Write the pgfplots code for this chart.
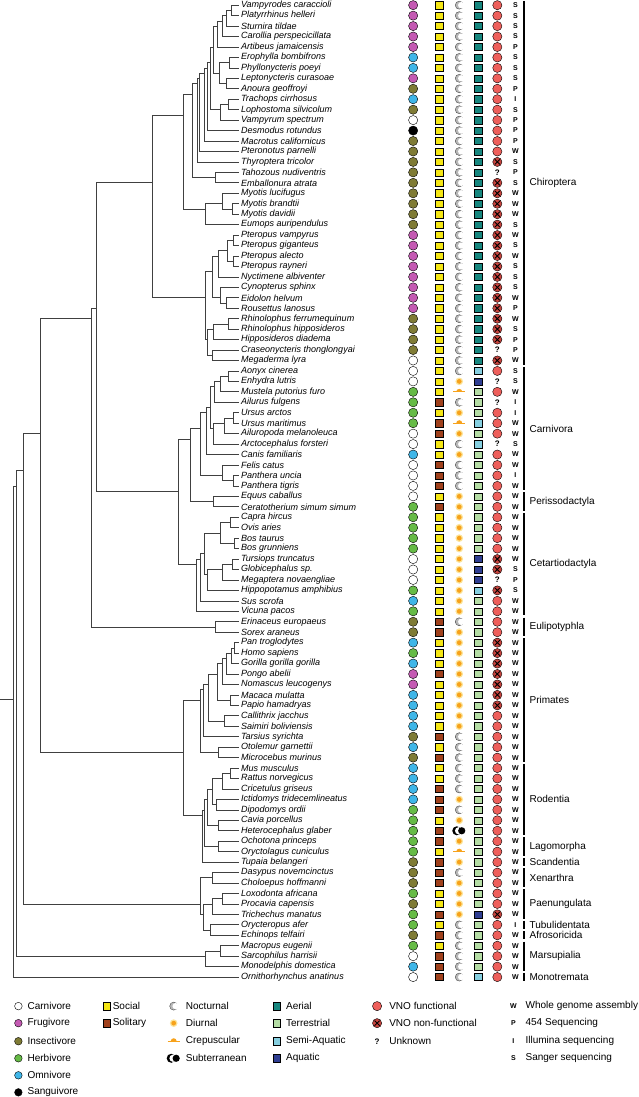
\documentclass[border=0pt]{standalone}
\usepackage{pgfplots}
\pgfplotsset{compat=1.18}
\usepackage{pgfplotstable}
\usepackage{fontspec}
\setmainfont{Liberation Sans}

\definecolor{cfrug}{HTML}{C45AB3}
\definecolor{cinsect}{HTML}{7F7B35}
\definecolor{cherb}{HTML}{66BB46}
\definecolor{comni}{HTML}{3FB6E8}
\definecolor{csocial}{HTML}{F5E614}
\definecolor{csolit}{HTML}{A0411C}
\definecolor{caerial}{HTML}{17877F}
\definecolor{cterr}{HTML}{B5DDA5}
\definecolor{csemi}{HTML}{86CFE0}
\definecolor{caqua}{HTML}{2F3E92}
\definecolor{cvno}{HTML}{EE5F5B}
\definecolor{cvnox}{HTML}{C8453F}
\definecolor{csun}{HTML}{F7A21B}
\definecolor{cglow}{HTML}{FCE49A}
\definecolor{cmoon}{HTML}{B8B8B8}

\pgfdeclareplotmark{moon}{%
  \pgfpathcircle{\pgfpointorigin}{\pgfplotmarksize}\pgfusepathqfillstroke
  \pgfsetfillcolor{white}\pgfsetstrokecolor{white}%
  \pgfpathcircle{\pgfpoint{0.5\pgfplotmarksize}{0pt}}{0.8\pgfplotmarksize}\pgfusepathqfill}
\pgfdeclareplotmark{sun}{%
  \pgfsetfillcolor{cglow}\pgfpathcircle{\pgfpointorigin}{1.6\pgfplotmarksize}\pgfusepathqfill
  \pgfsetfillcolor{csun}\pgfpathcircle{\pgfpointorigin}{\pgfplotmarksize}\pgfusepathqfill}
\pgfdeclareplotmark{dusk}{%
  \pgfsetfillcolor{csun}%
  \pgfpathmoveto{\pgfpoint{-\pgfplotmarksize}{0pt}}%
  \pgfpatharc{180}{0}{\pgfplotmarksize}\pgfpathclose\pgfusepathqfill
  \pgfsetstrokecolor{csun}\pgfsetlinewidth{0.8pt}%
  \pgfpathmoveto{\pgfpoint{-2\pgfplotmarksize}{0pt}}\pgfpathlineto{\pgfpoint{2\pgfplotmarksize}{0pt}}\pgfusepathqstroke}
\pgfdeclareplotmark{subt}{%
  \pgfsetfillcolor{black}%
  \pgfpathcircle{\pgfpoint{-0.55\pgfplotmarksize}{0pt}}{\pgfplotmarksize}\pgfusepathqfill
  \pgfsetfillcolor{white}%
  \pgfpathcircle{\pgfpoint{-0.15\pgfplotmarksize}{0pt}}{0.8\pgfplotmarksize}\pgfusepathqfill
  \pgfsetfillcolor{black}%
  \pgfpathcircle{\pgfpoint{0.55\pgfplotmarksize}{0pt}}{0.8\pgfplotmarksize}\pgfusepathqfill}
\pgfdeclareplotmark{vnox}{%
  \pgfpathcircle{\pgfpointorigin}{\pgfplotmarksize}\pgfusepathqfillstroke
  \pgfsetlinewidth{0.9pt}%
  \pgfpathmoveto{\pgfpoint{-0.55\pgfplotmarksize}{-0.55\pgfplotmarksize}}\pgfpathlineto{\pgfpoint{0.55\pgfplotmarksize}{0.55\pgfplotmarksize}}%
  \pgfpathmoveto{\pgfpoint{-0.55\pgfplotmarksize}{0.55\pgfplotmarksize}}\pgfpathlineto{\pgfpoint{0.55\pgfplotmarksize}{-0.55\pgfplotmarksize}}%
  \pgfusepathqstroke}

\pgfplotstableread[col sep=comma]{
r,name,diet,soc,act,hab,vno,seq
1,Vampyrodes caraccioli,F,Y,N,A,F,S
2,Platyrrhinus helleri,F,Y,N,A,F,S
3,Sturnira tildae,F,Y,N,A,F,S
4,Carollia perspecicillata,F,Y,N,A,F,S
5,Artibeus jamaicensis,F,Y,N,A,F,P
6,Erophylla bombifrons,O,Y,N,A,F,S
7,Phyllonycteris poeyi,O,Y,N,A,F,S
8,Leptonycteris curasoae,F,Y,N,A,F,S
9,Anoura geoffroyi,I,Y,N,A,F,P
10,Trachops cirrhosus,O,Y,N,A,F,I
11,Lophostoma silvicolum,I,Y,N,A,F,S
12,Vampyrum spectrum,C,Y,N,A,F,P
13,Desmodus rotundus,S,Y,N,A,F,P
14,Macrotus californicus,I,Y,N,A,F,P
15,Pteronotus parnelli,I,Y,N,A,F,W
16,Thyroptera tricolor,I,Y,N,A,X,S
17,Tahozous nudiventris,I,Y,N,A,U,P
18,Emballonura atrata,I,Y,N,A,X,S
19,Myotis lucifugus,I,Y,N,A,X,W
20,Myotis brandtii,I,Y,N,A,X,W
21,Myotis davidii,I,Y,N,A,X,W
22,Eumops auripendulus,I,Y,N,A,X,S
23,Pteropus vampyrus,F,Y,N,A,X,W
24,Pteropus giganteus,F,Y,N,A,X,S
25,Pteropus alecto,F,Y,N,A,X,W
26,Pteropus rayneri,F,Y,N,A,X,S
27,Nyctimene albiventer,F,Y,N,A,X,S
28,Cynopterus sphinx,F,Y,N,A,X,S
29,Eidolon helvum,F,Y,N,A,X,W
30,Rousettus lanosus,F,Y,N,A,X,P
31,Rhinolophus ferrumequinum,I,Y,N,A,X,W
32,Rhinolophus hipposideros,I,Y,N,A,X,S
33,Hipposideros diadema,I,Y,N,A,X,P
34,Craseonycteris thonglongyai,I,Y,N,A,U,P
35,Megaderma lyra,C,Y,N,A,X,W
36,Aonyx cinerea,C,Y,N,M,F,S
37,Enhydra lutris,C,Y,D,Q,U,S
38,Mustela putorius furo,H,Y,R,T,F,W
39,Ailurus fulgens,H,L,N,T,U,I
40,Ursus arctos,H,Y,D,T,F,I
41,Ursus maritimus,H,L,R,M,F,W
42,Ailuropoda melanoleuca,C,L,D,T,F,W
43,Arctocephalus forsteri,C,Y,N,M,U,S
44,Canis familiaris,O,Y,D,T,F,W
45,Felis catus,C,L,N,T,F,W
46,Panthera uncia,C,L,N,T,F,I
47,Panthera tigris,C,L,N,T,F,W
48,Equus caballus,C,Y,D,T,F,W
49,Ceratotherium simum simum,H,L,D,T,F,W
50,Capra hircus,H,Y,D,T,F,W
51,Ovis aries,H,Y,D,T,F,W
52,Bos taurus,H,Y,D,T,F,W
53,Bos grunniens,H,Y,D,T,F,W
54,Tursiops truncatus,C,Y,D,Q,X,W
55,Globicephalus sp.,C,Y,D,Q,X,S
56,Megaptera novaengliae,C,Y,D,Q,U,P
57,Hippopotamus amphibius,H,Y,D,M,X,S
58,Sus scrofa,O,Y,D,T,F,W
59,Vicuna pacos,H,Y,D,T,F,W
60,Erinaceus europaeus,I,L,N,T,F,W
61,Sorex araneus,I,L,D,T,F,W
62,Pan troglodytes,O,Y,D,T,X,W
63,Homo sapiens,H,Y,D,T,X,W
64,Gorilla gorilla gorilla,O,Y,D,T,X,W
65,Pongo abelii,F,L,D,T,X,W
66,Nomascus leucogenys,F,Y,D,T,X,W
67,Macaca mulatta,O,Y,D,T,X,W
68,Papio hamadryas,O,Y,D,T,X,W
69,Callithrix jacchus,O,Y,D,T,F,W
70,Saimiri boliviensis,O,Y,D,T,F,W
71,Tarsius syrichta,I,L,N,T,F,W
72,Otolemur garnettii,O,Y,N,T,F,W
73,Microcebus murinus,I,L,N,T,F,W
74,Mus musculus,O,Y,N,T,F,W
75,Rattus norvegicus,O,Y,N,T,F,W
76,Cricetulus griseus,O,L,N,T,F,W
77,Ictidomys tridecemlineatus,O,L,D,T,F,W
78,Dipodomys ordii,H,L,N,T,F,W
79,Cavia porcellus,H,Y,D,T,F,W
80,Heterocephalus glaber,H,L,U,T,F,W
81,Ochotona princeps,H,L,D,T,F,W
82,Oryctolagus cuniculus,H,Y,R,T,F,W
83,Tupaia belangeri,I,L,D,T,F,W
84,Dasypus novemcinctus,I,L,N,T,F,W
85,Choloepus hoffmanni,I,L,D,T,F,W
86,Loxodonta africana,H,Y,D,T,F,W
87,Procavia capensis,I,Y,D,T,F,W
88,Trichechus manatus,H,L,D,Q,X,W
89,Orycteropus afer,H,Y,N,T,F,I
90,Echinops telfairi,I,L,N,T,F,W
91,Macropus eugenii,H,Y,N,T,F,W
92,Sarcophilus harrisii,C,L,N,T,F,W
93,Monodelphis domestica,O,L,N,T,F,W
94,Ornithorhynchus anatinus,C,L,N,M,F,W
}\datatab

\pgfplotstableread{
x y
0 67.44
13 67.44
nan nan
16 47
13 47
13 94
238 94
nan nan
23 45.5
16 45.5
16 92
205 92
nan nan
40 42
23 42
23 87
200 87
nan nan
91 31
40 31
40 72.5
183 72.5
nan nan
96 30
91 30
91 60.5
215 60.5
nan nan
152 18
96 18
96 47.5
178 47.5
nan nan
183 11.5
152 11.5
152 29
205 29
nan nan
192 9.5
183 9.5
183 20.5
205 20.5
nan nan
197 8.5
192 8.5
192 17.5
215 17.5
nan nan
199 8
197 8
197 16
238 16
nan nan
204 7.5
199 7.5
199 15
238 15
nan nan
207 7
204 7
204 14
238 14
nan nan
210 6.5
207 6.5
207 13
238 13
nan nan
213 5
210 5
210 11
220 11
nan nan
217 3
213 3
213 7.5
219 7.5
nan nan
222 2.5
217 2.5
217 5
238 5
nan nan
226 2
222 2
222 4
238 4
nan nan
231 1.5
226 1.5
226 3
238 3
nan nan
238 1
231 1
231 2
238 2
nan nan
229 6.5
219 6.5
219 8.5
226 8.5
nan nan
238 6
229 6
229 7
238 7
nan nan
238 8
226 8
226 9
238 9
nan nan
228 10.5
220 10.5
220 12
238 12
nan nan
238 10
228 10
228 11
238 11
nan nan
238 17
215 17
215 18
238 18
nan nan
222 20
205 20
205 22
238 22
nan nan
238 19
222 19
222 20.5
232 20.5
nan nan
238 20
232 20
232 21
238 21
nan nan
212 26.5
205 26.5
205 33
207 33
nan nan
218 25
212 25
212 29
220 29
nan nan
227 24.5
218 24.5
218 27
238 27
nan nan
233 23.5
227 23.5
227 25.5
233 25.5
nan nan
238 23
233 23
233 24
238 24
nan nan
238 25
233 25
233 26
238 26
nan nan
238 28
220 28
220 29.5
226 29.5
nan nan
238 29
226 29
226 30
238 30
nan nan
213 32
207 32
207 34.5
212 34.5
nan nan
228 31.5
213 31.5
213 33
238 33
nan nan
238 31
228 31
228 32
238 32
nan nan
238 34
212 34
212 35
238 35
nan nan
190 42.5
178 42.5
178 54.5
196 54.5
nan nan
200 41.5
190 41.5
190 48.5
213 48.5
nan nan
206 40
200 40
200 46
222 46
nan nan
210 39.5
206 39.5
206 44
238 44
nan nan
214 37.5
210 37.5
210 41.5
213 41.5
nan nan
220 37
214 37
214 39
238 39
nan nan
228 36.5
220 36.5
220 38
238 38
nan nan
238 36
228 36
228 37
238 37
nan nan
224 41
213 41
213 43
238 43
nan nan
233 40.5
224 40.5
224 42
238 42
nan nan
238 40
233 40
233 41
238 41
nan nan
238 45
222 45
222 46.5
233 46.5
nan nan
238 46
233 46
233 47
238 47
nan nan
238 48
213 48
213 49
238 49
nan nan
200 54
196 54
196 59
238 59
nan nan
204 53.5
200 53.5
200 58
238 58
nan nan
220 51.5
204 51.5
204 55.5
207 55.5
nan nan
230 50.5
220 50.5
220 52.5
234 52.5
nan nan
238 50
230 50
230 51
238 51
nan nan
238 52
234 52
234 53
238 53
nan nan
222 55
207 55
207 57
238 57
nan nan
232 54.5
222 54.5
222 56
238 56
nan nan
238 54
232 54
232 55
238 55
nan nan
238 60
215 60
215 61
238 61
nan nan
200 67.5
183 67.5
183 78.5
202 78.5
nan nan
203 66.5
200 66.5
200 72.5
218 72.5
nan nan
208 66
203 66
203 71
238 71
nan nan
217 65
208 65
208 69.5
224 69.5
nan nan
222 64
217 64
217 67.5
230 67.5
nan nan
226 63.5
222 63.5
222 66
238 66
nan nan
231 63
226 63
226 65
238 65
nan nan
234 62.5
231 62.5
231 64
238 64
nan nan
238 62
234 62
234 63
238 63
nan nan
238 67
230 67
230 68
238 68
nan nan
238 69
224 69
224 70
238 70
nan nan
238 72
218 72
218 73
238 73
nan nan
204 78
202 78
202 83
238 83
nan nan
207 77
204 77
204 81.5
218 81.5
nan nan
212 76
207 76
207 79.5
218 79.5
nan nan
222 75
212 75
212 77.5
216 77.5
nan nan
230 74.5
222 74.5
222 76
238 76
nan nan
238 74
230 74
230 75
238 75
nan nan
238 77
216 77
216 78
238 78
nan nan
238 79
218 79
218 80
238 80
nan nan
238 81
218 81
218 82
238 82
nan nan
212 84.5
200 84.5
200 88
203 88
nan nan
238 84
212 84
212 85
238 85
nan nan
212 87
203 87
203 89.5
210 89.5
nan nan
222 86.5
212 86.5
212 88
238 88
nan nan
238 86
222 86
222 87
238 87
nan nan
238 89
210 89
210 90
238 90
nan nan
220 91.5
205 91.5
205 93
238 93
nan nan
238 91
220 91
220 92
238 92
}\treetab

\pgfplotstableread[col sep=comma]{
r1,r2,rm,label
1,35,18,Chiroptera
36,47,41.5,Carnivora
48,49,48.5,Perissodactyla
50,59,54.5,Cetartiodactyla
60,61,60.5,Eulipotyphla
62,73,67.5,Primates
74,80,77,Rodentia
81,82,81.5,Lagomorpha
83,83,83,Scandentia
84,85,84.5,Xenarthra
86,88,87,Paenungulata
89,89,89,Tubulidentata
90,90,90,Afrosoricida
91,93,92,Marsupialia
94,94,94,Monotremata
}\cladetab

\pgfplotstableread[col sep=comma]{
x,y,label
27,96.78,Carnivore
27,98.41,Frugivore
27,100.14,Insectivore
27,101.77,Herbivore
27,103.40,Omnivore
27,105.03,Sanguivore
112,96.78,Social
112,98.41,Solitary
185,96.78,Nocturnal
185,98.41,Diurnal
185,100.14,Crepuscular
185,101.77,Subterranean
285,96.78,Aerial
285,98.41,Terrestrial
285,100.14,Semi-Aquatic
285,101.77,Aquatic
388,96.78,VNO functional
388,98.41,VNO non-functional
388,100.14,Unknown
524,96.78,Whole genome assembly
524,98.41,454 Sequencing
524,100.14,Illumina sequencing
524,101.77,Sanger sequencing
}\legtab

\begin{document}
\begin{tikzpicture}
\begin{axis}[
  scale only axis, width=657pt, height=1097pt,
  xmin=0, xmax=657, ymin=0.5206, ymax=105.698, y dir=reverse,
  hide axis, clip=false,
]
% tree
\addplot[black!75, line width=0.7pt, unbounded coords=jump, mark=none] table[x=x,y=y]{\treetab};
% names
\addplot[draw=none, mark=none, nodes near coords, point meta=explicit symbolic,
  every node near coord/.append style={anchor=west, inner sep=0pt, font=\fontsize{9}{9}\selectfont\itshape}]
  table[x expr=240, y=r, meta=name]{\datatab};
% diet
\addplot[scatter, only marks, scatter src=explicit symbolic, mark size=4.6pt,
  scatter/classes={C={mark=*,fill=white,draw=black}, F={mark=*,fill=cfrug,draw=black},
    I={mark=*,fill=cinsect,draw=black}, H={mark=*,fill=cherb,draw=black},
    O={mark=*,fill=comni,draw=black}, S={mark=*,fill=black,draw=black}}]
  table[x expr=412, y=r, meta=diet]{\datatab};
% social
\addplot[scatter, only marks, scatter src=explicit symbolic, mark size=3.6pt,
  scatter/classes={Y={mark=square*,fill=csocial,draw=black}, L={mark=square*,fill=csolit,draw=black}}]
  table[x expr=438, y=r, meta=soc]{\datatab};
% activity
\addplot[scatter, only marks, scatter src=explicit symbolic,
  scatter/classes={N={mark=moon,fill=cmoon,draw=black!70,mark size=4pt},
    D={mark=sun,mark size=2.4pt}, R={mark=dusk,mark size=3pt}, U={mark=subt,mark size=4.5pt}}]
  table[x expr=458, y=r, meta=act]{\datatab};
% habitat
\addplot[scatter, only marks, scatter src=explicit symbolic, mark size=3.6pt,
  scatter/classes={A={mark=square*,fill=caerial,draw=black}, T={mark=square*,fill=cterr,draw=black},
    M={mark=square*,fill=csemi,draw=black}, Q={mark=square*,fill=caqua,draw=black}}]
  table[x expr=477, y=r, meta=hab]{\datatab};
% VNO
\addplot[scatter, only marks, scatter src=explicit symbolic, mark size=4.6pt,
  scatter/classes={F={mark=*,fill=cvno,draw=black}, X={mark=vnox,fill=cvnox,draw=black}, U={mark=none}}]
  table[x expr=496, y=r, meta=vno]{\datatab};
\addplot[draw=none, mark=none, nodes near coords={?},
  every node near coord/.append style={anchor=center, inner sep=0pt, font=\bfseries\fontsize{8}{8}\selectfont}]
  coordinates {(496,17) (496,34) (496,37) (496,39) (496,43) (496,56)};
% sequencing
\addplot[draw=none, mark=none, nodes near coords, point meta=explicit symbolic,
  every node near coord/.append style={anchor=center, inner sep=0pt, font=\bfseries\fontsize{7}{7}\selectfont}]
  table[x expr=514, y=r, meta=seq]{\datatab};
% clade brackets
\addplot[black, line width=2pt, unbounded coords=jump, mark=none] coordinates {
 (523,0.6) (523,35.4) (nan,nan) (523,35.6) (523,47.4) (nan,nan) (523,47.6) (523,49.4) (nan,nan)
 (523,49.6) (523,59.4) (nan,nan) (523,59.6) (523,61.4) (nan,nan) (523,61.6) (523,73.4) (nan,nan)
 (523,73.6) (523,80.4) (nan,nan) (523,80.6) (523,82.4) (nan,nan) (523,82.6) (523,83.4) (nan,nan)
 (523,83.6) (523,85.4) (nan,nan) (523,85.6) (523,88.4) (nan,nan) (523,88.6) (523,89.4) (nan,nan)
 (523,89.6) (523,90.4) (nan,nan) (523,90.6) (523,93.4) (nan,nan) (523,93.6) (523,94.4)};
\addplot[draw=none, mark=none, nodes near coords, point meta=explicit symbolic,
  every node near coord/.append style={anchor=west, inner sep=0pt, font=\fontsize{10}{10}\selectfont}]
  table[x expr=528, y=rm, meta=label]{\cladetab};
% legend marks
\addplot[only marks, mark=*, mark size=3.8pt, fill=white, draw=black] coordinates {(18,96.78)};
\addplot[only marks, mark=*, mark size=3.8pt, fill=cfrug, draw=black] coordinates {(18,98.41)};
\addplot[only marks, mark=*, mark size=3.8pt, fill=cinsect, draw=black] coordinates {(18,100.14)};
\addplot[only marks, mark=*, mark size=3.8pt, fill=cherb, draw=black] coordinates {(18,101.77)};
\addplot[only marks, mark=*, mark size=3.8pt, fill=comni, draw=black] coordinates {(18,103.40)};
\addplot[only marks, mark=*, mark size=3.8pt, fill=black, draw=black] coordinates {(18,105.03)};
\addplot[only marks, mark=square*, mark size=3.8pt, fill=csocial, draw=black] coordinates {(106,96.78)};
\addplot[only marks, mark=square*, mark size=3.8pt, fill=csolit, draw=black] coordinates {(106,98.41)};
\addplot[only marks, mark=moon, mark size=4pt, fill=cmoon, draw=black!70] coordinates {(173,96.78)};
\addplot[only marks, mark=sun, mark size=2.4pt] coordinates {(173,98.41)};
\addplot[only marks, mark=dusk, mark size=3pt] coordinates {(173,100.14)};
\addplot[only marks, mark=subt, mark size=4.5pt] coordinates {(173,101.77)};
\addplot[only marks, mark=square*, mark size=3.8pt, fill=caerial, draw=black] coordinates {(276,96.78)};
\addplot[only marks, mark=square*, mark size=3.8pt, fill=cterr, draw=black] coordinates {(276,98.41)};
\addplot[only marks, mark=square*, mark size=3.8pt, fill=csemi, draw=black] coordinates {(276,100.14)};
\addplot[only marks, mark=square*, mark size=3.8pt, fill=caqua, draw=black] coordinates {(276,101.77)};
\addplot[only marks, mark=*, mark size=4.6pt, fill=cvno, draw=black] coordinates {(376,96.78)};
\addplot[only marks, mark=vnox, mark size=4.6pt, fill=cvnox, draw=black] coordinates {(376,98.41)};
\addplot[draw=none, mark=none, nodes near coords={?},
  every node near coord/.append style={anchor=center, inner sep=0pt, font=\bfseries\fontsize{8}{8}\selectfont}]
  coordinates {(376,100.14)};
\addplot[draw=none, mark=none, nodes near coords, point meta=explicit symbolic,
  every node near coord/.append style={anchor=center, inner sep=0pt, font=\bfseries\fontsize{7}{7}\selectfont}]
  table[meta=l, col sep=comma]{
x,y,l
512,96.78,W
512,98.41,P
512,100.14,I
512,101.77,S
};
% legend texts
\addplot[draw=none, mark=none, nodes near coords, point meta=explicit symbolic,
  every node near coord/.append style={anchor=west, inner sep=0pt, font=\fontsize{10}{10}\selectfont}]
  table[x=x, y=y, meta=label]{\legtab};
\end{axis}
\end{tikzpicture}
\end{document}
